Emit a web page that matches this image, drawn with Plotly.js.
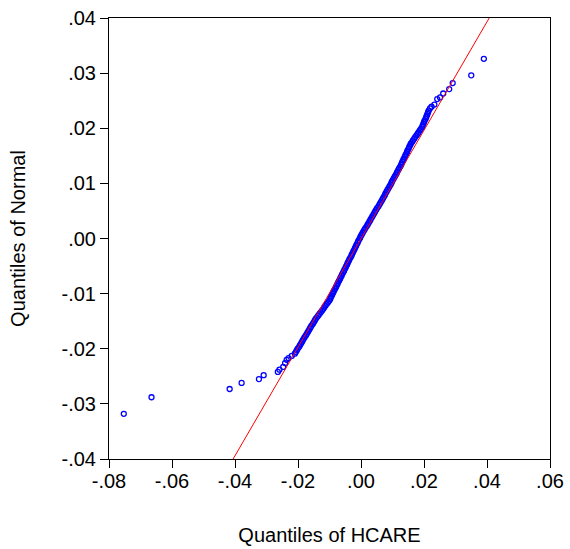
<!DOCTYPE html>
<html>
<head>
<meta charset="utf-8">
<script src="https://cdn.plot.ly/plotly-3.0.1.min.js"></script>
<style>html,body{margin:0;padding:0;background:#fff;}#chart{width:570px;height:549px;}</style>
</head>
<body>
<div id="chart"></div>
<script>
// Quantiles of HCARE (x) vs quantiles of Normal (y)
const normalQ = [
 0.0326, 0.0296, 0.0282, 0.0271, 0.0263, 0.0256, 0.0253, 0.0243, 0.0239, 0.0236,
 0.0232, 0.0229, 0.0226, 0.0223, 0.0220, 0.0217, 0.0214, 0.0211, 0.0208, 0.0205, 0.0202,
 0.0199, 0.0196, 0.0193, 0.0190, 0.0187, 0.0184, 0.0181, 0.0178, 0.0175,
 0.0172, 0.0169, 0.0166, 0.0163, 0.0160, 0.0157, 0.0154, 0.0151, 0.0148, 0.0145, 0.0142, 0.0139, 0.0136, 0.0133, 0.0130,
 0.0127, 0.0124, 0.0121, 0.0118, 0.0115, 0.0112, 0.0109, 0.0106, 0.0103, 0.0100, 0.0097, 0.0094, 0.0091, 0.0088, 0.0085, 0.0082, 0.0079, 0.0076, 0.0073, 0.0070,
 0.0067, 0.0064, 0.0061, 0.0058, 0.0055, 0.0052, 0.0049, 0.0046, 0.0043, 0.0040, 0.0037, 0.0034, 0.0031, 0.0028, 0.0025, 0.0022, 0.0019, 0.0016, 0.0013, 0.0010, 0.0007,
 0.0004, 0.0001, -0.0002, -0.0005, -0.0008, -0.0011, -0.0014, -0.0017, -0.0020, -0.0023, -0.0026, -0.0029, -0.0032, -0.0035, -0.0038, -0.0041, -0.0044, -0.0047, -0.0050, -0.0053, -0.0056, -0.0059, -0.0062, -0.0065, -0.0068,
 -0.0071, -0.0074, -0.0077, -0.0080, -0.0083, -0.0086, -0.0089, -0.0092, -0.0095, -0.0098, -0.0101, -0.0104, -0.0107, -0.0110,
 -0.0113, -0.0116, -0.0119, -0.0122, -0.0125, -0.0128, -0.0131, -0.0134, -0.0137, -0.0140, -0.0143, -0.0146,
 -0.0149, -0.0152, -0.0155, -0.0158, -0.0161, -0.0164, -0.0167, -0.0170, -0.0173, -0.0176, -0.0179, -0.0182, -0.0185, -0.0188, -0.0191, -0.0194, -0.0197, -0.0200, -0.0203, -0.0206, -0.0209,
 -0.0213, -0.0217, -0.0220, -0.0226, -0.0233, -0.0238, -0.0242, -0.0248, -0.0255, -0.0262, -0.0273, -0.0288, -0.0318
];
const hcareQ = [
 0.0390, 0.0350, 0.0291, 0.0280, 0.0261, 0.0251, 0.0242, 0.0233, 0.0224, 0.0219,
 0.0215, 0.0213, 0.0211, 0.0209, 0.0207, 0.0205, 0.0202, 0.0200, 0.0198, 0.0196, 0.0194,
 0.0190, 0.0187, 0.0183, 0.0180, 0.0176, 0.0172, 0.0169, 0.0165, 0.0162,
 0.0158, 0.0156, 0.0153, 0.0151, 0.0148, 0.0146, 0.0144, 0.0141, 0.0139, 0.0136, 0.0134, 0.0131, 0.0129, 0.0127, 0.0124,
 0.0121, 0.0118, 0.0115, 0.0113, 0.0110, 0.0107, 0.0104, 0.0101, 0.0098, 0.0096, 0.0093, 0.0090, 0.0087, 0.0084, 0.0081, 0.0078, 0.0076, 0.0073, 0.0070, 0.0067,
 0.0064, 0.0061, 0.0058, 0.0055, 0.0051, 0.0048, 0.0045, 0.0042, 0.0039, 0.0036, 0.0033, 0.0030, 0.0027, 0.0024, 0.0021, 0.0018, 0.0014, 0.0011, 0.0008, 0.0005, 0.0002,
 -0.0001, -0.0003, -0.0006, -0.0009, -0.0011, -0.0014, -0.0016, -0.0019, -0.0021, -0.0024, -0.0026, -0.0029, -0.0031, -0.0034, -0.0037, -0.0039, -0.0042, -0.0044, -0.0047, -0.0049, -0.0052, -0.0054, -0.0057, -0.0060, -0.0062,
 -0.0065, -0.0067, -0.0070, -0.0073, -0.0075, -0.0078, -0.0080, -0.0083, -0.0086, -0.0088, -0.0091, -0.0093, -0.0096, -0.0098,
 -0.0101, -0.0105, -0.0109, -0.0113, -0.0117, -0.0120, -0.0124, -0.0128, -0.0132, -0.0136, -0.0140, -0.0144,
 -0.0147, -0.0150, -0.0153, -0.0157, -0.0160, -0.0163, -0.0166, -0.0169, -0.0172, -0.0175, -0.0179, -0.0182, -0.0185, -0.0188, -0.0191, -0.0194, -0.0197, -0.0201, -0.0204, -0.0207, -0.0210,
 -0.0220, -0.0230, -0.0236, -0.0241, -0.0247, -0.0259, -0.0264, -0.0309, -0.0324, -0.0379, -0.0417, -0.0665, -0.0753
];
// Reference line (theoretical) endpoints
const lineX = [-0.0406, 0.0407];
const lineY = [-0.04, 0.04];
// Tick labels
const xTickVals = [-0.08, -0.06, -0.04, -0.02, 0.00, 0.02, 0.04, 0.06];
const xTickText = ['-.08', '-.06', '-.04', '-.02', '.00', '.02', '.04', '.06'];
const yTickVals = [-0.04, -0.03, -0.02, -0.01, 0.00, 0.01, 0.02, 0.03, 0.04];
const yTickText = ['-.04', '-.03', '-.02', '-.01', '.00', '.01', '.02', '.03', '.04'];

const font = 'Liberation Sans, Arial, sans-serif';
const traces = [
  {
    type: 'scatter', mode: 'markers', x: hcareQ, y: normalQ,
    marker: {symbol: 'circle-open', size: 5, color: '#0000ff', line: {width: 1.3, color: '#0000ff'}},
    hoverinfo: 'skip', cliponaxis: true
  },
  {
    type: 'scatter', mode: 'lines', x: lineX, y: lineY,
    line: {color: '#ff0000', width: 1}, hoverinfo: 'skip'
  }
];
const axisCommon = {
  showgrid: false, zeroline: false, showline: true, mirror: true,
  linecolor: '#000', linewidth: 1, ticks: 'outside', ticklen: 8, tickwidth: 1, tickcolor: '#000',
  tickfont: {family: font, size: 20, color: '#000'}, automargin: false
};
const layout = {
  width: 570, height: 549,
  margin: {l: 109, r: 20, t: 18, b: 90},
  paper_bgcolor: '#fff', plot_bgcolor: '#fff',
  showlegend: false,
  xaxis: Object.assign({}, axisCommon, {
    range: [-0.08, 0.06], tickmode: 'array', tickvals: xTickVals, ticktext: xTickText,
    ticklabelstandoff: -4,
    title: {text: 'Quantiles of HCARE', font: {family: font, size: 20, color: '#000'}, standoff: 36}
  }),
  yaxis: Object.assign({}, axisCommon, {
    range: [-0.04, 0.04], tickmode: 'array', tickvals: yTickVals, ticktext: yTickText,
    title: {text: 'Quantiles of Normal', font: {family: font, size: 20, color: '#000'}, standoff: 30}
  })
};
Plotly.newPlot('chart', traces, layout, {displayModeBar: false, staticPlot: true});
</script>
</body>
</html>
